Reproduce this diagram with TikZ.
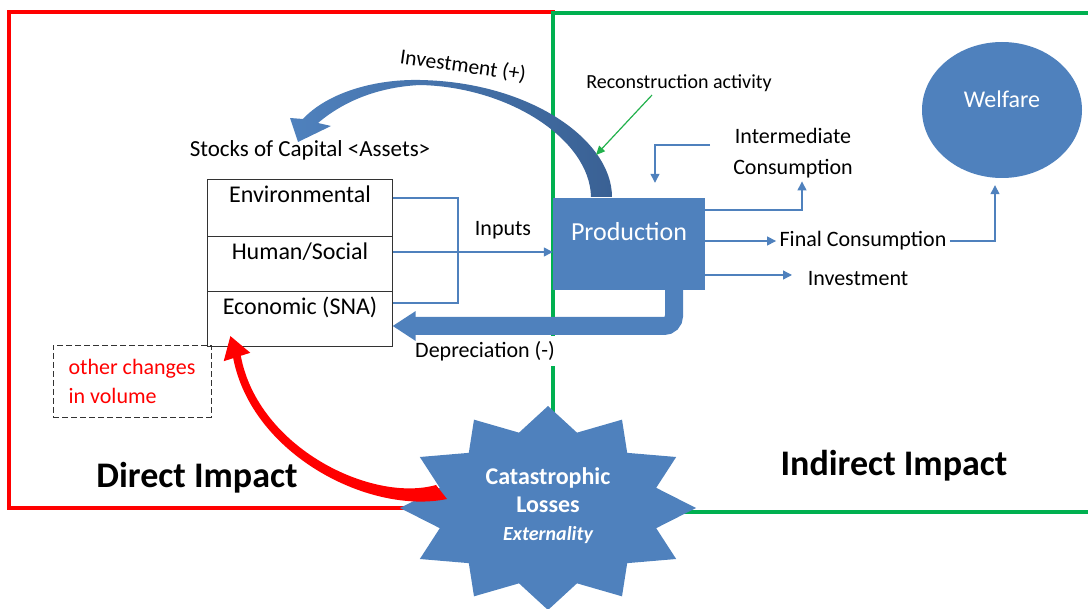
\documentclass[tikz,border=0pt]{standalone}
\usepackage{fontspec}
\setmainfont{Carlito}
\usetikzlibrary{arrows.meta,positioning,shapes.geometric,calc}
\definecolor{officeBlue}{HTML}{4F81BD}
\definecolor{officeDark}{HTML}{3A6194}
\definecolor{officeGreen}{HTML}{00B050}
\definecolor{reconGreen}{HTML}{22B14C}
\newcommand{\fsz}[1]{\fontsize{#1}{#1}\selectfont}
\tikzstyle{direct}=[draw=red, line width=4pt]
\tikzstyle{indirect}=[draw=officeGreen, line width=4pt]
\tikzstyle{cell}=[draw=black!80, line width=0.8pt, outer sep=0pt, minimum width=185pt, inner ysep=2pt, text height=22pt, anchor=north, font=\fsz{24}]
\tikzstyle{flow}=[draw=officeBlue, line width=1.3pt]
\tikzstyle{link}=[flow, -{Triangle[width=9pt,length=9pt]}]
\tikzstyle{deprec}=[draw=officeBlue, line width=18pt, rounded corners=10pt, -{Triangle[width=28pt,length=23pt]}]
\tikzstyle{bluebox}=[fill=officeBlue, text=white]
\tikzstyle{heading}=[font=\bfseries\fsz{36}]

\begin{document}
\begin{tikzpicture}[x=1pt, y=-1pt, font=\fsz{22}]
	\useasboundingbox (0,0) rectangle (1088,609);

	% Direct / indirect impact frames
	\draw[direct] (9,12) rectangle (553,508);
	\draw[indirect] (1095,13) -- (553,13) -- (553,512) -- (1095,512);

	% Stocks of capital
	\node[font=\fsz{23}] (stocks) at (310,150) {Stocks of Capital <Assets>};
	\node[cell, text depth=31pt] (env) at (300,179) {Environmental};
	\node[cell, text depth=29pt, below=0pt of env] (hum) {Human/Social};
	\node[cell, text depth=29pt, below=0pt of hum] (econ) {Economic (SNA)};

	\node[bluebox, minimum width=152pt, minimum height=92pt, font=\fsz{26}, text height=18pt, text depth=24pt] (prod) at (629,244) {Production};

	% Inputs
	\coordinate (hin) at ([yshift=11.5pt]hum.east);
	\draw[flow] ([yshift=9.5pt]env.east) -| (458,303) -- ([yshift=15.5pt]econ.east);
	\draw[link] (hin) -- (hin -| prod.west);
	\node (inputs) at (503,230) {Inputs};

	% Depreciation
	\node[fill=white, inner sep=5pt] (dep) at (485,351) {Depreciation (-)};
	\draw[deprec] ([xshift=45pt]prod.south) |- ([yshift=-7.5pt]econ.east);

	% Uses of production
	\node[align=center, font=\fontsize{22}{31}\selectfont] (inter) at (793,153) {Intermediate\\Consumption};
	\coordinate (icsrc) at (710,145);
	\draw[link] ([yshift=34pt]prod.east) -| ([xshift=9pt]inter.south);
	\draw[link] (icsrc) -| ([shift={(26pt,15pt)}]prod.north);
	\node (final) at (863,241) {Final Consumption};
	\draw[link] ([yshift=3pt]prod.east) -- (final.west);
	\node (invest) at (858,279) {Investment};
	\coordinate (invtip) at (792,275);
	\draw[link] ([yshift=-31pt]prod.east) -- (invtip);
	\node[ellipse, bluebox, minimum width=160pt, minimum height=136pt, font=\fsz{24}, text height=16pt, text depth=21pt] (welfare) at (1002,110) {Welfare};
	\draw[link] (final.east) -| ([shift={(-7pt,-7pt)}]welfare.south);

	% Investment back into the stocks
	\shade[left color=officeBlue, right color=officeDark] (612,197) .. controls (612,140) and (530,82) .. (420,80)
		.. controls (370,79) and (325,95) .. (303,119) -- (290,118) -- (298,142) -- (331,126) -- (318,123)
		.. controls (345,100) and (380,87) .. (420,85) .. controls (510,87) and (590,140) .. (591,197) -- cycle;
	\node[rotate=-8, font=\fsz{21.5}] (invplus) at (463,66) {Investment (+)};
	\node[font=\fsz{20}] (recon) at (679,83) {Reconstruction activity};
	\coordinate (arcpt) at (596,155);
	\draw[draw=reconGreen, line width=1.2pt, -{Triangle[width=8pt,length=9pt]}] ([xshift=-27pt]recon.south) -- (arcpt);

	\node[draw=black!80, dash pattern=on 6pt off 3pt, line width=0.8pt, minimum width=158pt, minimum height=72pt, align=left, text=red, font=\fontsize{22}{29}\selectfont] (ocv) at (132,381) {other changes\\in volume};

	\node[heading] (direct) at (197,478) {Direct Impact};
	\node[heading] (indirect) at (894,466) {Indirect Impact};

	% Catastrophe
	\begin{scope}[shift={(548,508)}]
		\fill[officeBlue] (90:148 and 102) \foreach \a in {0,30,...,330}{ -- (\a+90:148 and 102) -- (\a+105:112 and 78) } -- cycle;
	\end{scope}
	\node[align=center, text=white, font=\bfseries\fontsize{24}{28}\selectfont] (loss) at (548,506) {Catastrophic\\Losses\\{\itshape\fsz{20}Externality}};
	\fill[red] (436,485) .. controls (372,503) and (258,448) .. (240.8,355.8) -- (250.3,352.8) -- (230.4,336.1) -- (223.7,361.2) -- (233.2,358.2)
		.. controls (252,455) and (370,515) .. (447,499) -- cycle;
\end{tikzpicture}
\end{document}
